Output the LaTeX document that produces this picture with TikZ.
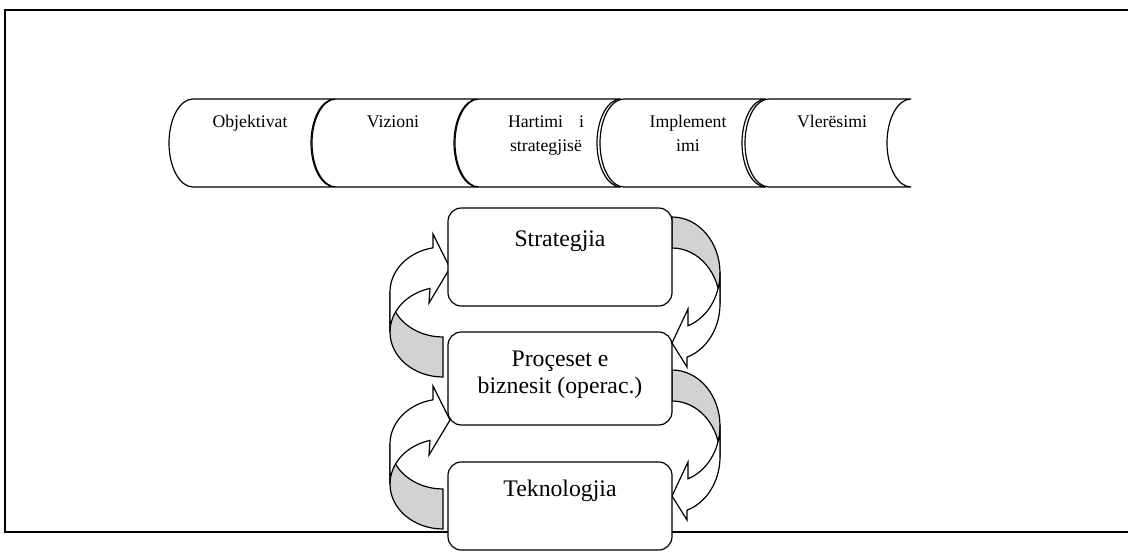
\documentclass[tikz,border=0pt]{standalone}
\usepackage{fontspec}
\setmainfont{Liberation Serif}

\begin{document}
\begin{tikzpicture}[x=0.75pt,y=-0.75pt,
  frame/.style={line width=1.5pt,line join=miter},
  stage/.style={draw,line width=0.9pt,fill=white},
  stagetext/.style={font=\fontsize{13.3}{18}\selectfont,anchor=base,align=center,inner sep=0pt},
  box/.style={draw,rounded corners=10pt,line width=0.9pt,fill=white,
              minimum width=168pt,inner sep=0pt},
  boxtext/.style={font=\fontsize{17.8}{20}\selectfont,anchor=base,align=center,inner sep=0pt},
  band/.style={draw,line width=0.9pt,fill=gray!35},
  front/.style={draw,line width=0.9pt,fill=white}
]
  \useasboundingbox (0,0) rectangle (1128,552);

  % Outer frame (open on the right)
  \draw[frame] (1135,10.5) -- (5,10.5) -- (5,532) -- (1135,532);

  % Row of stages (base of a label = its last line)
  \foreach \xl/\tx/\ty/\nm/\lbl in {169/250/127.7/obj/Objektivat, 312/393/127.7/viz/Vizioni,
      455/546/151.7/hart/{\makebox[57pt][s]{Hartimi i}\\strategjisë},
      600/688/151.7/impl/{Implement\\imi}, 745/832/127.7/vler/Vlerësimi}{
    \draw[stage] (\xl+24,99) -- (\xl+166,99)
      arc[start angle=270,end angle=90,x radius=24,y radius=44]
      -- (\xl+24,187)
      arc[start angle=90,end angle=270,x radius=24,y radius=44] -- cycle;
    \node[stagetext] (\nm) at (\tx,\ty) {\lbl};
  }

  % Curved arrows on the left (pointing up into the box above)
  \foreach \oy in {377,529}{
    \begin{scope}[shift={(443,\oy)}]
      \draw[band] (0,0) arc[start angle=90,end angle=180,x radius=53,y radius=45]
        -- (-53,-85) arc[start angle=180,end angle=90,x radius=53,y radius=45] -- cycle;
      \draw[front] (-53,-45) -- (-53,-85)
        arc[start angle=180,end angle=259.1,x radius=53,y radius=45]
        -- (-10,-143) -- (7,-109) -- (-14,-74) -- (-13,-88.6)
        arc[start angle=255.8,end angle=180,x radius=53,y radius=45] -- cycle;
    \end{scope}
  }

  % Curved arrows on the right (pointing down into the box below)
  \foreach \oy in {217,370}{
    \begin{scope}[shift={(672,\oy)}]
      \draw[band] (0,0) arc[start angle=270,end angle=360,x radius=48,y radius=56]
        -- (48,87) arc[start angle=0,end angle=-90,x radius=48,y radius=56] -- cycle;
      \draw[front] (48,56) -- (48,87)
        arc[start angle=0,end angle=71.8,x radius=48,y radius=56]
        -- (15,150) -- (0,126) -- (16,92) -- (16,108.8)
        arc[start angle=70.5,end angle=0,x radius=48,y radius=56] -- cycle;
    \end{scope}
  }

  % Boxes
  \node[box,minimum height=73.5pt] (strat) at (560,257) {};
  \node[box,minimum height=69.75pt] (proc) at (560,378.5) {};
  \node[box,minimum height=66pt] (tekn) at (560,506) {};

  \node[boxtext] (stratT) at (560,246.7) {Strategjia};
  \node[boxtext] (procT) at (560,393.3) {Proçeset e\\biznesit (operac.)};
  \node[boxtext] (teknT) at (560,496.7) {Teknologjia};
\end{tikzpicture}
\end{document}
